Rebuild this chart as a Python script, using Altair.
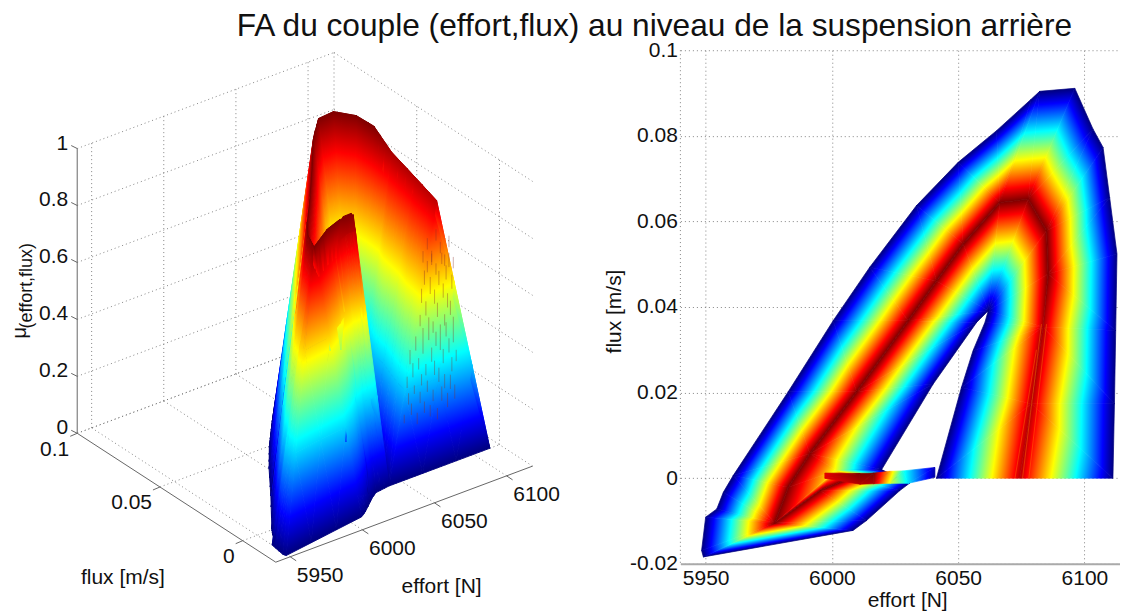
import altair as alt

# ---- values: effort [N], flux [m/s] ----
# flank of the membership surface, each outer-edge point (mu=0) paired with its ridge point
outer_effort = [5949.1,5948.4,5950.0,5954.4,5957.0,5960.9,5960.9,5982.7,6000.5,6015.0,6033.5,6050.0,6065.2,6079.0,6082.3,6096.2,6103.4,6107.4,6110.0,6112.9,6112.4,6111.9,6111.3]
outer_flux   = [-0.0184,-0.0169,-0.0091,-0.0072,-0.0033,0.0006,0.0006,0.0202,0.0368,0.0493,0.0637,0.0738,0.0812,0.0886,0.0904,0.0911,0.0816,0.0773,0.0656,0.0524,0.0345,0.0174,0.0]
outer_ridge_effort = [5977.4,5977.4,5977.4,5977.4,5977.4,5982.7,5991.3,6009.8,6030.2,6041.4,6052.0,6066.5,6066.5,6066.5,6077.7,6077.7,6085.0,6085.0,6085.6,6085.6,6083.6,6079.0,6074.4]
outer_ridge_flux   = [-0.0105,-0.0105,-0.0105,-0.0105,-0.0105,-0.0021,0.0057,0.0202,0.0368,0.0461,0.0547,0.0644,0.0644,0.0644,0.0652,0.0652,0.0578,0.0578,0.0477,0.0477,0.0353,0.0174,0.0]
outer_ridge_mu     = [1,1,1,1,1,1,1,1,1,1,1,1,1,1,1,1,1,1,1,1,0.96,0.95,0.94]
# inner edge (mu=0) and its ridge point
inner_effort = [6019.7,6040.1,6057.3,6061.9,6061.9,6061.9,6061.9,6061.9,6061.9,6061.9,6061.9,6060.6,6055.9,6051.3,6041.4]
inner_flux   = [0.0020,0.0220,0.0364,0.0391,0.0391,0.0391,0.0391,0.0391,0.0391,0.0391,0.0391,0.0364,0.0298,0.0212,0.0]
inner_ridge_effort = [5991.3,6009.8,6030.2,6030.2,6041.4,6052.0,6066.5,6077.7,6085.0,6085.6,6083.6,6083.6,6083.6,6079.0,6074.4]
inner_ridge_flux   = [0.0057,0.0202,0.0368,0.0368,0.0461,0.0547,0.0644,0.0652,0.0578,0.0477,0.0353,0.0353,0.0353,0.0174,0.0]
inner_ridge_mu     = [1,1,1,1,1,1,1,1,1,1,0.96,0.96,0.96,0.95,0.94]
# lower lobe under the ridge branch
lobe_effort = [5949.1,6008.4,6013.7,6026.9,6030.9]
lobe_flux   = [-0.0184,-0.0122,-0.0099,-0.0029,-0.0011]
lobe_ridge_effort = [5977.4,5977.4,5995.3,6007.1,6007.1]
lobe_ridge_flux   = [-0.0105,-0.0105,-0.0029,0.0,0.0]
lobe_ridge_mu     = [1,1,1,1,1]
# facets between main ridge and ridge branch: (effort, flux, mu) corners
between_facets = [
    [(5977.4,-0.0105,1),(5982.7,-0.0021,1),(6001.8,0.0018,0.6)],
    [(5982.7,-0.0021,1),(5991.3,0.0057,1),(6001.8,0.0018,0.6)],
    [(5977.4,-0.0105,1),(6001.8,0.0018,0.6),(5995.3,-0.0029,1)],
    [(5995.3,-0.0029,1),(6001.8,0.0018,0.6),(6007.1,0.0,1)],
    [(5991.3,0.0057,1),(6019.7,0.0020,0),(6001.8,0.0018,0.6)],
    [(6001.8,0.0018,0.6),(6019.7,0.0020,0),(6007.1,0.0,1)],
    [(6007.1,0.0,1),(6030.9,-0.0011,0),(6019.7,0.0020,0)],
]
# vertical cut faces at zero flux, visible only in the 3D view
cut_facets = [
    [(6041.4,0.0,0),(6111.3,0.0,0),(6074.4,0.0,0.94)],
    [(6007.1,0.0,1),(6016.6,0.0,1),(6030.9,-0.0011,0)],
    [(6016.6,0.0,1),(6041.4,0.0,0),(6030.9,-0.0011,0)],
]
# thin flap near zero flux
flap_top_effort = [5997.2,6011.1,6016.6,6023.0,6028.2,6040.8]
flap_top_flux   = [0.0012,0.0011,0.0012,0.0016,0.0017,0.0025]
flap_top_mu     = [0.9,1.0,1.0,0.7,0.4,0.05]
flap_bot_effort = [5997.2,6011.1,6016.6,6023.0,6030.2,6040.8]
flap_bot_flux   = [0.0,-0.0014,-0.0013,-0.0012,-0.0012,0.0002]
flap_bot_mu     = [0.9,0.95,0.95,0.6,0.35,0.03]
# dark speckle hairlines seen on the 3D cut face: effort, lower mu, upper mu
streak_effort = [6063,6064,6065,6066,6067,6068,6069,6070,6071,6072,6073,6074,6075,6076,6077,6078,6079,6080,6081,6082,6083,6084,6085,6086,
                 6052,6054,6055,6056,6057,6058,6059,6060,6061,6062,6063,6064,6065,6066,6067,6068,6069,6070,6071,6072,6073,6074,6075,6076,6077,6078,6079,6080,6081,6082,6083,6084,6085,6086,6087,6088,
                 6065,6068,6071,6074,6077,6080,6083,6086]
streak_lo     = [0.52,0.60,0.47,0.66,0.55,0.70,0.50,0.62,0.73,0.48,0.58,0.68,0.53,0.64,0.46,0.71,0.59,0.49,0.65,0.55,0.69,0.52,0.61,0.47,
                 0.20,0.32,0.26,0.40,0.22,0.35,0.29,0.44,0.18,0.37,0.25,0.31,0.42,0.21,0.34,0.28,0.46,0.19,0.38,0.24,0.33,0.43,0.17,0.30,0.41,0.23,0.36,0.27,0.45,0.20,0.39,0.26,0.32,0.42,0.22,0.35,
                 0.74,0.78,0.72,0.80,0.75,0.70,0.76,0.68]
streak_hi     = [0.56,0.65,0.51,0.71,0.60,0.74,0.54,0.68,0.77,0.52,0.63,0.72,0.58,0.69,0.50,0.75,0.64,0.53,0.70,0.60,0.74,0.57,0.66,0.51,
                 0.23,0.36,0.30,0.45,0.26,0.40,0.32,0.49,0.22,0.41,0.29,0.35,0.47,0.25,0.38,0.32,0.50,0.23,0.43,0.28,0.38,0.48,0.21,0.35,0.46,0.28,0.41,0.32,0.50,0.25,0.44,0.31,0.37,0.47,0.27,0.39,
                 0.78,0.82,0.76,0.84,0.79,0.74,0.80,0.72]
# lighter streaks along the right arm's crest in the flat view: (effort, flux) ends
crest_effort_a = [6083.0,6081.0,6085.0]
crest_flux_a   = [0.036,0.030,0.036]
crest_effort_b = [6075.5,6072.5,6078.0]
crest_flux_b   = [0.0,0.0,0.0]

mu_ticks = [0,0.2,0.4,0.6,0.8,1]
mu_labels = ["0","0.2","0.4","0.6","0.8","1"]
effort_ticks = [5950,6000,6050,6100]
flux_ticks_3d = [0,0.05,0.1]
flux_labels_3d = ["0","0.05","0.1"]
flux_ticks = [-0.02,0,0.02,0.04,0.06,0.08,0.1]

TITLE = "FA du couple (effort,flux) au niveau de la suspension arrière"
FONT = "Liberation Sans"
INK = "#111111"
E_MIN, E_MAX = 5940, 6114.1
F_MIN, F_MAX = -0.02, 0.1
STOPS = [{"offset":0,"color":"#00007f"},{"offset":0.125,"color":"#0000ff"},{"offset":0.375,"color":"#00ffff"},
         {"offset":0.625,"color":"#ffff00"},{"offset":0.875,"color":"#ff0000"},{"offset":1,"color":"#7f0000"}]

def strip(a_e,a_f,b_e,b_f,b_m,out):
    for i in range(len(a_e)-1):
        A0=(a_e[i],a_f[i],0);A1=(a_e[i+1],a_f[i+1],0)
        B0=(b_e[i],b_f[i],b_m[i]);B1=(b_e[i+1],b_f[i+1],b_m[i+1])
        if A0!=A1: out.append([A0,A1,B0])
        if B0!=B1: out.append([A1,B1,B0])

facets=[]
strip(lobe_effort,lobe_flux,lobe_ridge_effort,lobe_ridge_flux,lobe_ridge_mu,facets)
strip(outer_effort,outer_flux,outer_ridge_effort,outer_ridge_flux,outer_ridge_mu,facets)
strip(inner_effort,inner_flux,inner_ridge_effort,inner_ridge_flux,inner_ridge_mu,facets)
facets+=between_facets
for i in range(len(flap_top_effort)-1):
    T0=(flap_top_effort[i],flap_top_flux[i],flap_top_mu[i]);T1=(flap_top_effort[i+1],flap_top_flux[i+1],flap_top_mu[i+1])
    B0=(flap_bot_effort[i],flap_bot_flux[i],flap_bot_mu[i]);B1=(flap_bot_effort[i+1],flap_bot_flux[i+1],flap_bot_mu[i+1])
    facets.append([T0,T1,B0]);facets.append([T1,B1,B0])

def linear_shade(pts,mus,flip):
    """Gradient vector (bbox units) reproducing the plane through three corner values."""
    xs=[p[0] for p in pts];ys=[p[1] for p in pts]
    w=max(xs)-min(xs);h=max(ys)-min(ys)
    if w==0 or h==0: return None
    U=[((x-min(xs))/w,((max(ys)-y)/h if flip else (y-min(ys))/h)) for x,y in pts]
    mus=list(mus)
    if max(mus)-min(mus)<1e-6: mus[0]+=1e-3
    (u0,v0),(u1,v1),(u2,v2)=U
    det=(u1-u0)*(v2-v0)-(u2-u0)*(v1-v0)
    if abs(det)<1e-9: return None
    d1=mus[1]-mus[0];d2=mus[2]-mus[0]
    a=(d1*(v2-v0)-d2*(v1-v0))/det
    b=((u1-u0)*d2-(u2-u0)*d1)/det
    n=a*a+b*b
    return {"gradient":"linear","x1":u0-mus[0]*a/n,"y1":v0-mus[0]*b/n,
            "x2":u0+(1-mus[0])*a/n,"y2":v0+(1-mus[0])*b/n,"stops":STOPS}

def rows(tris,flip):
    out=[]
    for k,(pts,mus) in enumerate(tris):
        g=linear_shade(pts,mus,flip)
        if g is None: continue
        for i,j in enumerate([0,1,2,0]):
            out.append({"x":pts[j][0],"y":pts[j][1],"t":k,"i":i,"g":g})
    return out

# ---- 3D view of the left panel (axonometric camera) ----
def proj(e,f,m):
    return (275+1.444*(e-5940)-1656*(f-F_MIN), 561.7-0.54*(e-5940)-1075*(f-F_MIN)-285*m)
def depth(e,f,m):
    return 1.732*(0.54*(e-5940)+1075*(f-F_MIN))-164.5*m
def tessellate(t,n=3):
    """Split a facet for depth sorting only; shading stays the facet's own plane."""
    a,b,c=t;out=[]
    P=lambda i,j:tuple(a[q]+(b[q]-a[q])*i/n+(c[q]-a[q])*j/n for q in range(3))
    for i in range(n):
        for j in range(n-i):
            out.append([P(i,j),P(i+1,j),P(i,j+1)])
            if i+j<n-1: out.append([P(i+1,j),P(i+1,j+1),P(i,j+1)])
    return out

sc_x=alt.Scale(domain=[8,680],nice=False,zero=False)
sc_y=alt.Scale(domain=[563.3,49.3],nice=False,zero=False)
X=alt.X("x:Q",scale=sc_x,axis=None);Y=alt.Y("y:Q",scale=sc_y,axis=None)

E3,F3=6118,0.1
grid=[]
def seg(a,b):
    n=len(grid);p=proj(*a);q=proj(*b)
    grid.append({"x":p[0],"y":p[1],"k":n,"i":0});grid.append({"x":q[0],"y":q[1],"k":n,"i":1})
for m in mu_ticks:
    seg((5940,F3,m),(E3,F3,m));seg((E3,F3,m),(E3,F_MIN,m))
for e in effort_ticks:
    seg((e,F3,0),(e,F3,1));seg((e,F3,0),(e,F_MIN,0))
for f in flux_ticks_3d:
    seg((E3,f,0),(E3,f,1));seg((5940,f,0),(E3,f,0))

ax=[]
def axseg(p,q):
    n=len(ax);ax.append({"x":p[0],"y":p[1],"k":n,"i":0});ax.append({"x":q[0],"y":q[1],"k":n,"i":1})
axseg(proj(5940,F3,0),proj(5940,F3,1))
axseg(proj(5940,F3,0),proj(5940,F_MIN,0))
axseg(proj(5940,F_MIN,0),proj(E3,F_MIN,0))
for m in mu_ticks:
    p=proj(5940,F3,m);axseg(p,(p[0]-6,p[1]-3))
for e in effort_ticks:
    p=proj(e,F_MIN,0);axseg(p,(p[0]+6,p[1]+4))
for f in flux_ticks_3d:
    p=proj(5940,f,0);axseg(p,(p[0]-7,p[1]+3))

text=[]
for m,l in zip(mu_ticks,mu_labels):
    p=proj(5940,F3,m);text.append({"x":p[0]-9,"y":p[1]-5,"t":l,"s":21,"a":"right","r":0})
for e in effort_ticks:
    p=proj(e,F_MIN,0);text.append({"x":p[0]+30,"y":p[1]+19,"t":str(e),"s":21,"a":"center","r":0})
for f,l in zip(flux_ticks_3d,flux_labels_3d):
    p=proj(5940,f,0);text.append({"x":p[0]-8,"y":p[1]+16.5,"t":l,"s":21,"a":"right","r":0})
text.append({"x":122,"y":578,"t":"flux [m/s]","s":21,"a":"center","r":0})
text.append({"x":441,"y":587,"t":"effort [N]","s":21,"a":"center","r":0})
text.append({"x":26,"y":285,"t":"(effort,flux)","s":18,"a":"center","r":270})
text.append({"x":19,"y":332,"t":"μ","s":20,"a":"center","r":270})
text.append({"x":654,"y":25,"t":TITLE,"s":31.7,"a":"center","r":0})

all3=[s for t in facets+cut_facets for s in tessellate(t)]
order3=sorted(all3,key=lambda t:-sum(depth(*c) for c in t))
tris3=[([proj(*c)[:2] for c in t],[c[2] for c in t]) for t in order3]
tris2=[([(c[0],c[1]) for c in t],[c[2] for c in t]) for t in facets]

streaks=[]
for k,(e,lo,hi) in enumerate(zip(streak_effort,streak_lo,streak_hi)):
    for i,m in enumerate((lo,hi)):
        p=proj(e,0.0,m);streaks.append({"x":p[0],"y":p[1],"k":k,"i":i})
crests=[]
for k,(ea,fa,eb,fb) in enumerate(zip(crest_effort_a,crest_flux_a,crest_effort_b,crest_flux_b)):
    crests.append({"x":ea,"y":fa,"k":k,"i":0});crests.append({"x":eb,"y":fb,"k":k,"i":1})

def shaded(values,x,y,w):
    return alt.Chart(alt.Data(values=values)).mark_line(strokeWidth=w,strokeJoin="round",interpolate="linear").encode(
        x=x,y=y,detail="t:N",order=alt.Order("i:Q"),
        fill=alt.Fill("g:N",scale=None,legend=None),stroke=alt.Stroke("g:N",scale=None,legend=None))

l_grid=alt.Chart(alt.Data(values=grid)).mark_line(color="#777777",strokeWidth=0.9,strokeDash=[1,3]).encode(x=X,y=Y,detail="k:N",order=alt.Order("i:Q"))
l_ax=alt.Chart(alt.Data(values=ax)).mark_line(color="#666666",strokeWidth=1).encode(x=X,y=Y,detail="k:N",order=alt.Order("i:Q"))
l_streak=alt.Chart(alt.Data(values=streaks)).mark_line(color="#8a2f28",strokeWidth=0.7,opacity=0.55).encode(x=X,y=Y,detail="k:N",order=alt.Order("i:Q"))
pin=alt.Chart(alt.Data(values=[{"x":8,"y":8}])).mark_point(opacity=0,size=1).encode(x=X,y=Y)
l_text=[alt.Chart(alt.Data(values=[d])).mark_text(font=FONT,fontSize=d["s"],align=d["a"],baseline="middle",angle=d["r"],color=INK).encode(x=X,y=Y,text="t:N") for d in text]
left=alt.layer(pin,l_grid,shaded(rows(tris3,False),X,Y,0.9),l_streak,l_ax,*l_text).properties(width=672,height=514)

sx2=alt.Scale(domain=[E_MIN,E_MAX],nice=False,zero=False)
X2=alt.X("x:Q",scale=sx2,
  axis=alt.Axis(values=effort_ticks,format="d",title="effort [N]",titleFontSize=21,titleFontWeight="normal",titleFont=FONT,titleColor=INK,
   labelFont=FONT,labelFontSize=21,labelColor=INK,tickSize=0,domainColor="#aaaaaa",domainWidth=2,labelPadding=4,titleX=227,titleY=37,titleBaseline="middle",
   grid=True,gridDash=[1,3],gridColor="#777777",gridWidth=0.9))
Y2=alt.Y("y:Q",scale=alt.Scale(domain=[F_MIN,F_MAX],nice=False,zero=False),
  axis=alt.Axis(values=flux_ticks,labelExpr="replace(format(datum.value,'.2~f'),'\u2212','-')",title="flux [m/s]",titleFontSize=21,titleFontWeight="normal",titleFont=FONT,titleColor=INK,
   labelFont=FONT,labelFontSize=21,labelColor=INK,tickSize=0,domain=False,labelPadding=3,titleX=-66,titleY=261,titleBaseline="middle",
   grid=True,gridDash=[1,3],gridColor="#777777",gridWidth=0.9))
right=alt.layer(
    shaded(rows(tris2,True),X2,Y2,0.7),
    alt.Chart(alt.Data(values=crests)).mark_line(color="#ff8000",strokeWidth=0.9,opacity=0.45).encode(x=X2,y=Y2,detail="k:N",order=alt.Order("i:Q")),
    alt.Chart(alt.Data(values=[{"x":E_MIN}])).mark_rule(color="#777777",strokeWidth=0.9,strokeDash=[1,3]).encode(x=alt.X("x:Q",scale=sx2)),
).properties(width=440,height=514)

chart=alt.hconcat(left,right,spacing=0,bounds="flush").properties(padding=0).configure_view(stroke=None)
chart.save("out.html",embed_options={"renderer":"svg","actions":False})
